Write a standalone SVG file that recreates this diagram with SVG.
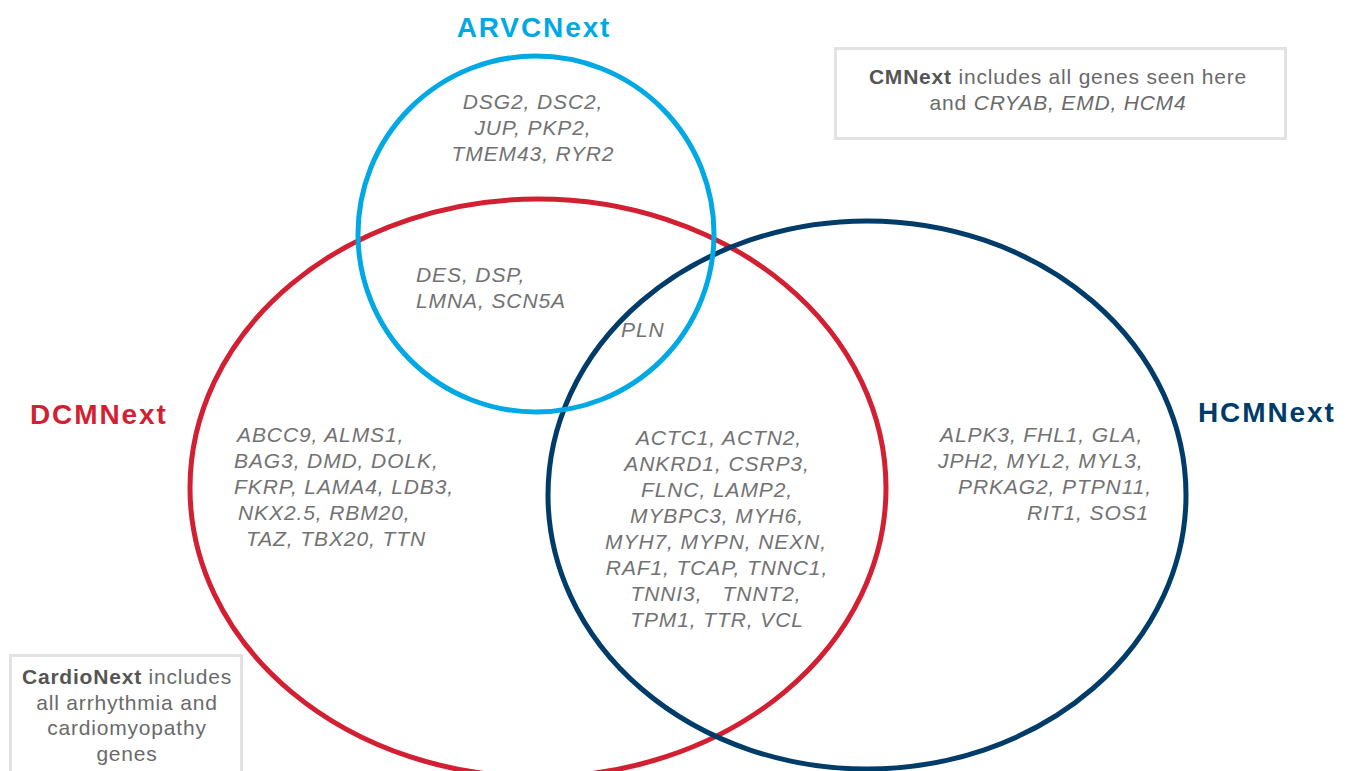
<svg xmlns="http://www.w3.org/2000/svg" width="1348" height="771" viewBox="0 0 1348 771">
<style>
.set{fill:none;stroke-width:5}
.title{font-family:"Liberation Sans",Arial,sans-serif;font-weight:bold;font-size:28px;letter-spacing:1.9px}
.gene{font-family:"Liberation Sans",Arial,sans-serif;font-style:italic;font-size:21px;letter-spacing:0.9px;fill:#727272}
.note{font-family:"Liberation Sans",Arial,sans-serif;font-size:21px;letter-spacing:0.8px;fill:#6a6a6a}
.note .b{font-weight:bold;fill:#555}
.note .i{font-style:italic}
.box{fill:#fff;stroke:#e2e2e2;stroke-width:3}
</style>
<rect width="1348" height="771" fill="#fff"/>
<g id="connectors"/>
<g id="DCMNext">
<ellipse class="set" cx="538" cy="488" rx="348" ry="289" stroke="#d21f32"/>
<text class="title" x="30" y="424" fill="#d21f32">DCMNext</text>
</g>
<g id="HCMNext">
<ellipse class="set" cx="867" cy="495" rx="319" ry="274" stroke="#003c69"/>
<text class="title" x="1198" y="422" fill="#003c69">HCMNext</text>
</g>
<g id="ARVCNext">
<circle class="set" cx="536" cy="234" r="178" stroke="#00a9e3"/>
<text class="title" x="534" y="37" fill="#00a9e3" text-anchor="middle">ARVCNext</text>
</g>
<g id="arvc-only" class="gene" text-anchor="middle">
<text x="533" y="109">DSG2, DSC2,</text>
<text x="533" y="135">JUP, PKP2,</text>
<text x="533" y="161">TMEM43, RYR2</text>
</g>
<g id="arvc-dcm" class="gene">
<text x="416" y="282">DES, DSP,</text>
<text x="416" y="308">LMNA, SCN5A</text>
</g>
<g id="all-three" class="gene">
<text x="621" y="337">PLN</text>
</g>
<g id="dcm-only" class="gene">
<text x="237" y="442">ABCC9, ALMS1,</text>
<text x="234" y="468">BAG3, DMD, DOLK,</text>
<text x="234" y="494">FKRP, LAMA4, LDB3,</text>
<text x="238" y="520">NKX2.5, RBM20,</text>
<text x="246" y="546">TAZ, TBX20, TTN</text>
</g>
<g id="dcm-hcm" class="gene" text-anchor="middle">
<text x="719" y="445">ACTC1, ACTN2,</text>
<text x="717" y="471">ANKRD1, CSRP3,</text>
<text x="717" y="497">FLNC, LAMP2,</text>
<text x="717" y="523">MYBPC3, MYH6,</text>
<text x="716" y="549">MYH7, MYPN, NEXN,</text>
<text x="717" y="575">RAF1, TCAP, TNNC1,</text>
<text x="716" y="601" xml:space="preserve">TNNI3,   TNNT2,</text>
<text x="717" y="627">TPM1, TTR, VCL</text>
</g>
<g id="hcm-only" class="gene">
<text x="940" y="442">ALPK3, FHL1, GLA,</text>
<text x="938" y="468">JPH2, MYL2, MYL3,</text>
<text x="958" y="494">PRKAG2, PTPN11,</text>
<text x="1027" y="520">RIT1, SOS1</text>
</g>
<g id="CMNext-note">
<rect class="box" x="835.5" y="48.5" width="450" height="90"/>
<text class="note" x="1058" y="84" text-anchor="middle"><tspan class="b">CMNext</tspan> includes all genes seen here</text>
<text class="note" x="1058" y="110" text-anchor="middle">and <tspan class="i">CRYAB, EMD, HCM4</tspan></text>
</g>
<g id="CardioNext-note">
<rect class="box" x="10.5" y="655.5" width="231" height="130"/>
<text class="note" x="127" y="684" text-anchor="middle"><tspan class="b">CardioNext</tspan> includes</text>
<text class="note" x="127" y="710" text-anchor="middle">all arrhythmia and</text>
<text class="note" x="127" y="735" text-anchor="middle">cardiomyopathy</text>
<text class="note" x="127" y="761" text-anchor="middle">genes</text>
</g>
</svg>
